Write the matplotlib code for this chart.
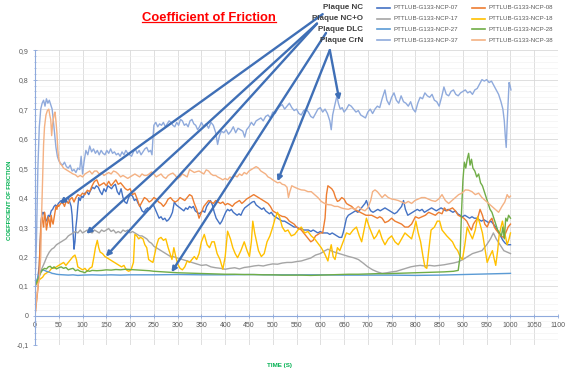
import matplotlib
matplotlib.use('Agg')
import matplotlib.pyplot as plt
from matplotlib.lines import Line2D
from matplotlib.ticker import MultipleLocator, FuncFormatter

plt.rcParams['font.family'] = ['Liberation Sans', 'DejaVu Sans']

# (time s, coefficient of friction)
s07 = [(0, 0.10), (3, 0.11), (6, 0.13), (9, 0.17), (11, 0.25), (13, 0.32), (15, 0.35), (17, 0.345), (19, 0.35),
       (21, 0.33), (23, 0.32), (25, 0.325), (28, 0.34), (31, 0.335), (34, 0.355), (37, 0.36), (40, 0.37),
       (43, 0.375), (46, 0.37), (49, 0.38), (52, 0.385), (55, 0.39), (58, 0.38), (61, 0.39), (64, 0.385),
       (67, 0.395), (70, 0.40), (73, 0.385), (76, 0.37), (78, 0.34), (80, 0.28), (82, 0.225), (84, 0.25),
       (86, 0.30), (88, 0.33), (90, 0.37), (92, 0.40), (95, 0.39), (98, 0.405), (101, 0.40), (105, 0.415),
       (109, 0.42), (113, 0.41), (117, 0.425), (121, 0.435), (125, 0.43), (129, 0.44), (133, 0.435), (137, 0.42),
       (141, 0.41), (145, 0.43), (149, 0.42), (153, 0.44), (157, 0.435), (161, 0.43), (165, 0.44), (169, 0.445),
       (173, 0.42), (177, 0.41), (181, 0.43), (185, 0.40), (189, 0.385), (193, 0.38), (197, 0.40), (201, 0.41),
       (205, 0.405), (209, 0.39), (213, 0.395), (217, 0.38), (221, 0.37), (225, 0.355), (229, 0.35), (233, 0.36),
       (237, 0.365), (241, 0.36), (245, 0.37), (249, 0.375), (253, 0.36), (257, 0.345), (261, 0.33), (265, 0.335),
       (269, 0.325), (273, 0.33), (277, 0.32), (281, 0.325), (285, 0.335), (289, 0.35), (293, 0.385), (297, 0.375),
       (301, 0.37), (305, 0.365), (309, 0.36), (313, 0.355), (317, 0.365), (321, 0.36), (325, 0.37), (329, 0.365),
       (333, 0.37), (337, 0.355), (341, 0.35), (345, 0.345), (349, 0.35), (353, 0.355), (357, 0.35), (361, 0.37),
       (365, 0.38), (369, 0.39), (373, 0.375), (377, 0.35), (381, 0.33), (385, 0.32), (389, 0.31), (393, 0.32),
       (397, 0.335), (401, 0.35), (405, 0.36), (409, 0.355), (413, 0.36), (417, 0.35), (421, 0.345), (425, 0.34),
       (429, 0.345), (433, 0.34), (437, 0.355), (441, 0.365), (445, 0.37), (449, 0.375), (453, 0.38), (457, 0.385),
       (461, 0.387), (465, 0.375), (469, 0.37), (473, 0.365), (477, 0.36), (481, 0.365), (485, 0.355), (489, 0.35),
       (493, 0.345), (497, 0.35), (501, 0.34), (505, 0.335), (510, 0.33), (515, 0.325), (520, 0.32), (525, 0.32),
       (530, 0.315), (535, 0.31), (540, 0.305), (545, 0.30), (550, 0.30), (555, 0.295), (560, 0.295), (565, 0.29),
       (570, 0.29), (575, 0.29), (580, 0.285), (585, 0.29), (590, 0.285), (595, 0.28), (600, 0.285), (605, 0.28),
       (610, 0.28), (615, 0.28), (620, 0.275), (625, 0.28), (630, 0.275), (635, 0.27), (640, 0.265), (645, 0.265),
       (648, 0.28), (651, 0.30), (655, 0.33), (659, 0.34), (664, 0.345), (669, 0.35), (674, 0.355), (679, 0.35),
       (684, 0.36), (689, 0.37), (694, 0.38), (697, 0.39), (701, 0.37), (706, 0.355), (711, 0.35), (716, 0.355),
       (721, 0.36), (726, 0.355), (731, 0.36), (736, 0.365), (741, 0.36), (746, 0.355), (751, 0.35), (756, 0.345),
       (761, 0.35), (766, 0.36), (771, 0.37), (775, 0.39), (779, 0.36), (784, 0.34), (789, 0.345), (794, 0.35),
       (799, 0.355), (804, 0.36), (809, 0.355), (814, 0.36), (819, 0.35), (824, 0.355), (829, 0.36), (834, 0.365),
       (839, 0.36), (844, 0.355), (849, 0.36), (854, 0.365), (859, 0.36), (864, 0.355), (869, 0.36), (874, 0.355),
       (879, 0.35), (884, 0.355), (889, 0.345), (894, 0.34), (899, 0.335), (904, 0.34), (909, 0.335), (914, 0.33),
       (919, 0.335), (924, 0.33), (929, 0.33), (934, 0.325), (939, 0.32), (944, 0.325), (949, 0.32), (954, 0.315),
       (959, 0.32), (964, 0.31), (969, 0.30), (974, 0.285), (979, 0.27), (984, 0.255), (989, 0.245), (994, 0.24),
       (1000, 0.24)]

s08 = [(0, 0.0), (2, 0.03), (4, 0.06), (6, 0.09), (8, 0.13), (10, 0.22), (12, 0.30), (14, 0.335), (16, 0.32),
       (18, 0.30), (20, 0.35), (22, 0.33), (24, 0.29), (26, 0.31), (28, 0.335), (30, 0.32), (32, 0.30), (34, 0.34),
       (36, 0.32), (38, 0.31), (40, 0.33), (42, 0.35), (44, 0.37), (46, 0.36), (48, 0.375), (50, 0.37), (54, 0.38),
       (58, 0.385), (62, 0.37), (66, 0.39), (70, 0.38), (74, 0.395), (78, 0.40), (82, 0.385), (86, 0.40), (90, 0.41),
       (95, 0.405), (100, 0.415), (105, 0.41), (110, 0.425), (115, 0.42), (120, 0.44), (125, 0.455), (130, 0.46),
       (135, 0.44), (140, 0.445), (145, 0.45), (150, 0.44), (155, 0.455), (160, 0.44), (165, 0.45), (170, 0.46),
       (175, 0.445), (180, 0.45), (185, 0.44), (190, 0.43), (195, 0.425), (200, 0.43), (205, 0.41), (210, 0.415),
       (215, 0.395), (220, 0.37), (225, 0.385), (230, 0.40), (235, 0.395), (240, 0.385), (245, 0.39), (250, 0.40),
       (255, 0.395), (260, 0.385), (265, 0.38), (270, 0.37), (275, 0.38), (280, 0.395), (285, 0.40), (290, 0.39),
       (295, 0.385), (300, 0.39), (305, 0.40), (310, 0.395), (315, 0.39), (320, 0.40), (325, 0.41), (330, 0.405),
       (335, 0.38), (340, 0.36), (345, 0.33), (350, 0.35), (355, 0.37), (360, 0.38), (365, 0.39), (370, 0.385),
       (375, 0.38), (380, 0.39), (385, 0.385), (390, 0.38), (395, 0.385), (400, 0.375), (405, 0.38), (410, 0.376),
       (415, 0.37), (420, 0.38), (425, 0.385), (430, 0.39), (435, 0.38), (440, 0.387), (445, 0.395), (450, 0.40),
       (455, 0.405), (460, 0.41), (465, 0.405), (470, 0.40), (475, 0.395), (480, 0.39), (485, 0.385), (490, 0.38),
       (495, 0.37), (500, 0.355), (505, 0.35), (510, 0.345), (515, 0.34), (520, 0.336), (525, 0.335), (530, 0.33),
       (535, 0.32), (540, 0.315), (545, 0.31), (550, 0.30), (555, 0.295), (560, 0.29), (565, 0.28), (570, 0.27),
       (575, 0.26), (580, 0.25), (585, 0.255), (590, 0.27), (595, 0.275), (600, 0.28), (605, 0.28), (610, 0.33),
       (613, 0.41), (616, 0.44), (620, 0.435), (624, 0.43), (628, 0.42), (632, 0.40), (636, 0.387), (640, 0.39),
       (645, 0.40), (650, 0.395), (655, 0.38), (660, 0.375), (666, 0.37), (672, 0.36), (678, 0.355), (684, 0.35),
       (690, 0.345), (696, 0.34), (702, 0.34), (708, 0.34), (714, 0.335), (720, 0.33), (725, 0.335), (730, 0.33),
       (736, 0.315), (743, 0.32), (750, 0.33), (757, 0.32), (764, 0.315), (771, 0.31), (778, 0.30), (785, 0.30),
       (792, 0.31), (800, 0.335), (807, 0.33), (814, 0.335), (821, 0.34), (828, 0.35), (835, 0.345), (842, 0.34),
       (849, 0.35), (856, 0.345), (861, 0.365), (866, 0.355), (872, 0.36), (878, 0.365), (884, 0.355), (890, 0.34),
       (896, 0.335), (902, 0.33), (908, 0.32), (914, 0.30), (918, 0.29), (922, 0.31), (926, 0.32), (931, 0.33),
       (936, 0.36), (941, 0.34), (946, 0.31), (951, 0.30), (956, 0.32), (961, 0.33), (966, 0.30), (970, 0.29),
       (975, 0.28), (980, 0.27), (985, 0.265), (990, 0.28), (995, 0.30), (1000, 0.31)]

s17 = [(0, 0.10), (4, 0.11), (8, 0.13), (12, 0.15), (16, 0.165), (20, 0.18), (25, 0.20), (30, 0.215), (35, 0.225),
       (40, 0.23), (45, 0.24), (50, 0.245), (55, 0.25), (60, 0.255), (65, 0.26), (70, 0.27), (75, 0.275), (80, 0.28),
       (85, 0.285), (90, 0.28), (95, 0.29), (100, 0.28), (105, 0.285), (110, 0.29), (115, 0.285), (120, 0.28),
       (125, 0.29), (130, 0.285), (135, 0.28), (140, 0.29), (145, 0.285), (150, 0.29), (155, 0.295), (160, 0.285),
       (165, 0.29), (170, 0.28), (175, 0.285), (180, 0.28), (185, 0.29), (190, 0.285), (195, 0.29), (200, 0.28),
       (205, 0.285), (210, 0.28), (215, 0.275), (220, 0.27), (225, 0.27), (230, 0.265), (235, 0.26), (240, 0.25),
       (245, 0.245), (250, 0.235), (255, 0.23), (260, 0.225), (265, 0.22), (270, 0.215), (275, 0.21), (280, 0.205),
       (285, 0.20), (290, 0.20), (300, 0.195), (310, 0.19), (320, 0.185), (330, 0.18), (340, 0.175), (350, 0.17),
       (360, 0.172), (370, 0.165), (380, 0.162), (390, 0.16), (400, 0.157), (410, 0.16), (420, 0.162), (430, 0.158),
       (440, 0.163), (450, 0.165), (460, 0.168), (470, 0.17), (480, 0.168), (490, 0.172), (500, 0.175), (510, 0.174),
       (520, 0.178), (530, 0.18), (540, 0.18), (550, 0.183), (560, 0.185), (570, 0.19), (580, 0.195), (590, 0.205),
       (600, 0.21), (610, 0.22), (616, 0.225), (622, 0.22), (630, 0.215), (640, 0.21), (650, 0.205), (660, 0.20),
       (670, 0.196), (680, 0.19), (690, 0.178), (700, 0.165), (710, 0.155), (720, 0.148), (730, 0.143), (740, 0.145),
       (750, 0.148), (760, 0.15), (770, 0.155), (780, 0.16), (790, 0.165), (800, 0.168), (810, 0.17), (820, 0.168),
       (830, 0.17), (840, 0.168), (850, 0.17), (860, 0.172), (870, 0.175), (880, 0.178), (890, 0.182), (900, 0.19),
       (910, 0.20), (920, 0.21), (930, 0.215), (940, 0.22), (950, 0.24), (958, 0.26), (964, 0.28), (970, 0.26),
       (978, 0.24), (986, 0.22), (993, 0.215), (1000, 0.21)]

s18 = [(0, 0.10), (4, 0.11), (8, 0.12), (12, 0.125), (16, 0.13), (20, 0.14), (25, 0.145), (30, 0.15), (35, 0.16),
       (40, 0.16), (45, 0.165), (50, 0.17), (55, 0.175), (60, 0.18), (65, 0.17), (70, 0.18), (75, 0.19), (80, 0.20),
       (84, 0.205), (87, 0.19), (90, 0.165), (95, 0.16), (100, 0.155), (105, 0.16), (110, 0.15), (115, 0.16),
       (120, 0.165), (124, 0.20), (127, 0.23), (131, 0.255), (134, 0.23), (137, 0.215), (142, 0.21), (147, 0.20),
       (152, 0.195), (157, 0.19), (162, 0.185), (167, 0.18), (172, 0.175), (177, 0.17), (182, 0.165), (187, 0.17),
       (192, 0.155), (197, 0.15), (202, 0.155), (207, 0.18), (210, 0.275), (214, 0.27), (218, 0.26), (222, 0.265),
       (227, 0.26), (231, 0.24), (235, 0.23), (239, 0.19), (243, 0.185), (248, 0.18), (252, 0.21), (256, 0.24),
       (260, 0.26), (265, 0.265), (270, 0.255), (275, 0.26), (280, 0.23), (284, 0.21), (288, 0.19), (292, 0.23),
       (296, 0.20), (300, 0.175), (305, 0.16), (310, 0.155), (315, 0.165), (320, 0.185), (325, 0.18), (330, 0.19),
       (335, 0.20), (340, 0.19), (345, 0.21), (350, 0.25), (356, 0.275), (362, 0.24), (367, 0.23), (372, 0.25),
       (377, 0.25), (383, 0.21), (389, 0.19), (395, 0.157), (400, 0.20), (405, 0.286), (411, 0.26), (416, 0.23),
       (421, 0.21), (426, 0.196), (433, 0.22), (440, 0.25), (446, 0.22), (451, 0.20), (455, 0.25), (458, 0.32),
       (462, 0.28), (466, 0.25), (470, 0.22), (476, 0.20), (482, 0.21), (488, 0.25), (494, 0.27), (500, 0.30),
       (505, 0.33), (510, 0.35), (515, 0.33), (520, 0.30), (526, 0.285), (532, 0.29), (539, 0.27), (546, 0.275),
       (553, 0.29), (560, 0.30), (567, 0.28), (574, 0.285), (581, 0.27), (588, 0.26), (595, 0.245), (602, 0.23),
       (609, 0.21), (616, 0.185), (620, 0.22), (623, 0.24), (627, 0.20), (631, 0.19), (636, 0.23), (641, 0.22),
       (648, 0.25), (655, 0.28), (662, 0.275), (669, 0.29), (676, 0.30), (682, 0.27), (687, 0.25), (692, 0.29),
       (697, 0.33), (703, 0.30), (708, 0.28), (713, 0.26), (718, 0.27), (724, 0.29), (730, 0.26), (736, 0.24),
       (743, 0.26), (750, 0.27), (757, 0.25), (764, 0.24), (771, 0.26), (778, 0.28), (785, 0.27), (792, 0.26),
       (797, 0.29), (801, 0.32), (806, 0.28), (811, 0.25), (816, 0.20), (820, 0.165), (824, 0.16), (828, 0.22),
       (833, 0.29), (840, 0.30), (846, 0.32), (851, 0.32), (856, 0.29), (861, 0.28), (866, 0.27), (872, 0.26),
       (878, 0.25), (884, 0.23), (889, 0.22), (894, 0.20), (899, 0.19), (904, 0.24), (909, 0.30), (914, 0.28),
       (920, 0.26), (926, 0.29), (931, 0.335), (936, 0.31), (941, 0.28), (946, 0.23), (951, 0.18), (956, 0.20),
       (962, 0.22), (966, 0.19), (969, 0.17), (973, 0.22), (976, 0.27), (980, 0.30), (983, 0.32), (988, 0.28),
       (993, 0.24), (997, 0.26), (1000, 0.28)]

s27 = [(0, 0.10), (4, 0.12), (8, 0.135), (12, 0.15), (16, 0.155), (20, 0.153), (24, 0.15), (28, 0.148),
       (32, 0.146), (36, 0.143), (40, 0.142), (45, 0.14), (50, 0.139), (60, 0.138), (70, 0.137), (80, 0.138),
       (90, 0.136), (100, 0.137), (120, 0.138), (140, 0.137), (160, 0.138), (180, 0.137), (200, 0.138),
       (250, 0.138), (300, 0.139), (350, 0.138), (400, 0.138), (450, 0.139), (500, 0.138), (550, 0.138),
       (600, 0.138), (650, 0.137), (700, 0.137), (750, 0.137), (800, 0.136), (850, 0.137), (900, 0.139),
       (950, 0.141), (1000, 0.143)]

s28 = [(0, 0.10), (4, 0.115), (8, 0.13), (12, 0.145), (16, 0.155), (20, 0.16), (24, 0.158), (28, 0.165),
       (32, 0.167), (36, 0.16), (40, 0.165), (45, 0.158), (50, 0.162), (55, 0.165), (60, 0.16), (65, 0.163),
       (70, 0.155), (75, 0.158), (80, 0.16), (85, 0.152), (90, 0.155), (95, 0.15), (100, 0.148), (105, 0.145),
       (110, 0.152), (115, 0.15), (120, 0.153), (130, 0.152), (140, 0.153), (150, 0.155), (160, 0.154),
       (170, 0.156), (180, 0.155), (190, 0.157), (200, 0.156), (210, 0.155), (220, 0.154), (230, 0.153),
       (240, 0.152), (250, 0.15), (260, 0.149), (270, 0.148), (280, 0.147), (290, 0.146), (300, 0.145),
       (320, 0.144), (340, 0.143), (360, 0.142), (380, 0.141), (400, 0.14), (420, 0.14), (440, 0.139),
       (460, 0.139), (480, 0.138), (500, 0.138), (520, 0.137), (540, 0.137), (560, 0.137), (580, 0.136),
       (600, 0.137), (620, 0.138), (640, 0.139), (660, 0.14), (680, 0.14), (700, 0.141), (720, 0.142),
       (740, 0.142), (760, 0.143), (780, 0.144), (800, 0.145), (820, 0.146), (840, 0.147), (860, 0.148),
       (880, 0.15), (890, 0.153), (894, 0.20), (897, 0.35), (900, 0.46), (903, 0.52), (906, 0.50), (909, 0.53),
       (912, 0.55), (915, 0.51), (918, 0.53), (921, 0.50), (925, 0.49), (929, 0.47), (933, 0.48), (937, 0.45),
       (941, 0.44), (945, 0.42), (949, 0.40), (953, 0.38), (957, 0.36), (961, 0.35), (965, 0.33), (969, 0.31),
       (973, 0.29), (977, 0.28), (981, 0.27), (984, 0.30), (987, 0.26), (990, 0.33), (993, 0.32), (996, 0.34),
       (1000, 0.33)]

s37 = [(0, 0.12), (3, 0.25), (6, 0.50), (9, 0.64), (12, 0.70), (15, 0.72), (18, 0.73), (21, 0.71), (24, 0.735),
       (27, 0.72), (30, 0.73), (33, 0.715), (36, 0.70), (38, 0.67), (41, 0.62), (44, 0.57), (47, 0.54), (50, 0.525),
       (54, 0.515), (58, 0.51), (62, 0.52), (66, 0.505), (70, 0.50), (74, 0.51), (78, 0.49), (82, 0.495),
       (86, 0.485), (90, 0.50), (94, 0.495), (97, 0.54), (100, 0.48), (103, 0.52), (107, 0.56), (111, 0.545),
       (115, 0.575), (119, 0.555), (123, 0.565), (127, 0.55), (131, 0.56), (135, 0.545), (139, 0.56), (143, 0.55),
       (147, 0.545), (151, 0.56), (155, 0.55), (159, 0.565), (163, 0.55), (167, 0.555), (171, 0.545), (175, 0.55),
       (179, 0.54), (183, 0.555), (187, 0.545), (191, 0.56), (195, 0.55), (199, 0.545), (203, 0.54), (207, 0.555),
       (211, 0.565), (215, 0.55), (219, 0.56), (223, 0.545), (227, 0.555), (231, 0.565), (235, 0.57), (239, 0.555),
       (243, 0.56), (246, 0.545), (248, 0.60), (250, 0.645), (254, 0.655), (258, 0.64), (262, 0.65), (266, 0.645),
       (270, 0.655), (274, 0.64), (278, 0.65), (282, 0.66), (286, 0.655), (290, 0.645), (294, 0.64), (298, 0.655),
       (302, 0.645), (306, 0.665), (310, 0.66), (314, 0.645), (318, 0.65), (322, 0.64), (326, 0.66), (330, 0.665),
       (334, 0.65), (338, 0.645), (342, 0.63), (346, 0.64), (350, 0.655), (355, 0.64), (360, 0.65), (365, 0.635),
       (370, 0.655), (375, 0.645), (380, 0.62), (384, 0.58), (388, 0.61), (392, 0.625), (397, 0.62), (402, 0.63),
       (407, 0.615), (412, 0.625), (417, 0.64), (422, 0.62), (427, 0.635), (432, 0.63), (437, 0.625), (441, 0.605),
       (445, 0.63), (450, 0.64), (455, 0.655), (460, 0.645), (465, 0.66), (470, 0.665), (475, 0.67), (480, 0.66),
       (485, 0.675), (490, 0.68), (495, 0.67), (500, 0.69), (505, 0.685), (510, 0.70), (515, 0.71), (520, 0.715),
       (525, 0.70), (530, 0.71), (535, 0.72), (540, 0.705), (545, 0.695), (550, 0.70), (555, 0.685), (560, 0.68),
       (565, 0.695), (570, 0.70), (575, 0.69), (580, 0.675), (585, 0.67), (590, 0.685), (595, 0.70), (600, 0.705),
       (605, 0.69), (610, 0.70), (615, 0.685), (620, 0.66), (623, 0.63), (626, 0.68), (630, 0.71), (635, 0.745),
       (638, 0.72), (642, 0.70), (646, 0.705), (650, 0.69), (655, 0.70), (660, 0.715), (665, 0.71), (670, 0.70),
       (675, 0.69), (680, 0.695), (685, 0.68), (690, 0.675), (695, 0.67), (700, 0.69), (705, 0.70), (710, 0.685),
       (715, 0.70), (720, 0.71), (725, 0.705), (730, 0.735), (736, 0.765), (740, 0.73), (745, 0.715), (750, 0.74),
       (755, 0.755), (760, 0.73), (765, 0.72), (770, 0.745), (775, 0.725), (780, 0.72), (785, 0.71), (790, 0.725),
       (795, 0.70), (800, 0.69), (805, 0.72), (810, 0.74), (815, 0.735), (820, 0.755), (825, 0.745), (830, 0.74),
       (835, 0.75), (840, 0.73), (845, 0.725), (850, 0.71), (855, 0.74), (860, 0.775), (865, 0.75), (870, 0.745),
       (875, 0.76), (880, 0.765), (885, 0.75), (890, 0.745), (895, 0.755), (900, 0.76), (905, 0.765), (910, 0.755),
       (915, 0.76), (920, 0.75), (925, 0.765), (930, 0.77), (935, 0.785), (940, 0.80), (945, 0.795), (950, 0.80),
       (955, 0.79), (960, 0.795), (965, 0.78), (970, 0.765), (975, 0.75), (980, 0.725), (984, 0.70), (987, 0.66),
       (989, 0.61), (991, 0.57), (993, 0.65), (995, 0.72), (997, 0.79), (999, 0.78), (1001, 0.765)]

s38 = [(0, 0.0), (3, 0.05), (6, 0.10), (9, 0.12), (12, 0.20), (14, 0.35), (16, 0.46), (18, 0.58), (20, 0.64),
       (23, 0.68), (26, 0.695), (29, 0.70), (31, 0.68), (33, 0.665), (35, 0.61), (37, 0.65), (40, 0.68), (42, 0.69),
       (44, 0.66), (46, 0.62), (48, 0.56), (50, 0.53), (53, 0.515), (56, 0.51), (60, 0.50), (65, 0.495), (70, 0.49),
       (75, 0.485), (80, 0.48), (85, 0.477), (90, 0.47), (95, 0.475), (100, 0.47), (105, 0.48), (110, 0.485),
       (115, 0.49), (120, 0.48), (125, 0.49), (130, 0.49), (135, 0.48), (140, 0.485), (145, 0.475), (150, 0.48),
       (155, 0.485), (160, 0.48), (165, 0.49), (170, 0.487), (175, 0.48), (180, 0.47), (185, 0.475), (190, 0.47),
       (195, 0.465), (200, 0.47), (205, 0.475), (210, 0.48), (215, 0.475), (220, 0.47), (225, 0.48), (230, 0.475),
       (235, 0.475), (240, 0.48), (245, 0.487), (250, 0.48), (255, 0.47), (260, 0.475), (265, 0.48), (270, 0.47),
       (275, 0.465), (280, 0.475), (285, 0.48), (290, 0.483), (295, 0.475), (300, 0.464), (305, 0.47), (310, 0.48),
       (315, 0.475), (320, 0.47), (325, 0.495), (330, 0.49), (335, 0.485), (340, 0.488), (345, 0.49), (350, 0.485),
       (355, 0.48), (360, 0.494), (365, 0.49), (370, 0.48), (375, 0.475), (380, 0.475), (384, 0.47), (390, 0.465),
       (395, 0.46), (400, 0.465), (405, 0.46), (410, 0.47), (415, 0.465), (420, 0.475), (425, 0.47), (430, 0.48),
       (435, 0.475), (440, 0.485), (445, 0.48), (450, 0.49), (455, 0.495), (460, 0.50), (465, 0.505), (470, 0.50),
       (475, 0.49), (480, 0.485), (485, 0.48), (490, 0.47), (495, 0.466), (500, 0.46), (505, 0.455), (510, 0.45),
       (515, 0.452), (520, 0.445), (525, 0.443), (530, 0.435), (533, 0.40), (536, 0.42), (540, 0.44), (546, 0.435),
       (553, 0.43), (560, 0.426), (567, 0.425), (574, 0.42), (581, 0.42), (588, 0.41), (595, 0.40), (602, 0.387),
       (609, 0.38), (616, 0.376), (623, 0.375), (630, 0.37), (637, 0.37), (644, 0.365), (651, 0.362), (659, 0.36),
       (666, 0.365), (673, 0.36), (680, 0.37), (687, 0.36), (694, 0.355), (700, 0.365), (706, 0.39), (710, 0.42),
       (715, 0.426), (720, 0.42), (725, 0.41), (730, 0.40), (736, 0.41), (743, 0.40), (750, 0.395), (757, 0.393),
       (764, 0.39), (771, 0.385), (778, 0.38), (785, 0.387), (792, 0.38), (799, 0.39), (806, 0.395), (813, 0.40),
       (820, 0.40), (827, 0.395), (834, 0.39), (842, 0.387), (849, 0.395), (856, 0.41), (863, 0.39), (870, 0.38),
       (877, 0.39), (884, 0.40), (891, 0.41), (898, 0.415), (905, 0.426), (912, 0.425), (919, 0.42), (926, 0.41),
       (933, 0.415), (940, 0.40), (947, 0.39), (954, 0.38), (961, 0.37), (968, 0.36), (975, 0.35), (982, 0.37),
       (988, 0.385), (993, 0.41), (997, 0.40), (1000, 0.405)]

names = ['PTTLUB-G133-NCP-07', 'PTTLUB-G133-NCP-08', 'PTTLUB-G133-NCP-17', 'PTTLUB-G133-NCP-18',
         'PTTLUB-G133-NCP-27', 'PTTLUB-G133-NCP-28', 'PTTLUB-G133-NCP-37', 'PTTLUB-G133-NCP-38']
data = [s07, s08, s17, s18, s27, s28, s37, s38]
colors = ['#4472C4', '#ED7D31', '#A5A5A5', '#FFC000', '#5B9BD5', '#70AD47', '#8FAADC', '#F4B183']

plaques = ['Plaque NC', 'Plaque NC+O', 'Plaque DLC', 'Plaque CrN']
# arrow (tail, head) in data units, tails sit under the labels above the plot
arrows = [((605, 1.022), (52, 0.38)),
          ((593, 0.99), (108, 0.277)), ((593, 0.99), (149, 0.20)),
          ((612, 0.958), (287, 0.147)),
          ((620, 0.90), (510, 0.455)), ((620, 0.90), (640, 0.73))]

fig = plt.figure(figsize=(5.76, 3.74), dpi=100)
ax = fig.add_axes([0.0608, 0.0775, 0.908, 0.7885])

for d, c in zip(data, colors):
    t = [p[0] for p in d]
    v = [p[1] for p in d]
    ax.plot(t, v, color=c, lw=1.0, solid_joinstyle='round')

ax.set_xlim(0, 1100)
ax.set_ylim(-0.1, 0.9)
ax.xaxis.set_major_locator(MultipleLocator(50))
ax.yaxis.set_major_locator(MultipleLocator(0.1))
ax.yaxis.set_minor_locator(MultipleLocator(0.02))
ax.yaxis.set_major_formatter(FuncFormatter(lambda v, p: '0' if abs(v) < 1e-9 else f'{v:.1f}'.replace('.', ',')))

ax.grid(which='major', color='#D9D9D9', lw=0.6)
ax.grid(which='minor', axis='y', color='#EFEFEF', lw=0.4)
ax.set_axisbelow(True)

for s in ['top', 'right']:
    ax.spines[s].set_visible(False)
ax.spines['bottom'].set_position(('data', 0))
ax.spines['bottom'].set_color('#8FAADC')
ax.spines['left'].set_color('#8FAADC')
ax.spines['bottom'].set_linewidth(0.8)
ax.spines['left'].set_linewidth(0.8)
ax.tick_params(axis='both', which='major', labelsize=5, labelcolor='#595959', color='#8FAADC',
               direction='inout', length=3, width=0.6, pad=3)
ax.tick_params(axis='y', which='minor', color='#8FAADC', direction='inout', length=1.5, width=0.5)

for (tail, head) in arrows:
    ax.annotate('', xy=head, xytext=tail, annotation_clip=False,
                arrowprops=dict(arrowstyle='-|>', color='#3F6FB6', lw=1.7, mutation_scale=7,
                                shrinkA=0, shrinkB=0), zorder=10)

rows_y = [0.979, 0.950, 0.922, 0.893]
for lab, y in zip(plaques, rows_y):
    fig.text(0.630, y, lab, ha='right', va='center', fontsize=5.8, fontweight='bold', color='#404040')

for i, (n, c) in enumerate(zip(names, colors)):
    col = i % 2
    row = i // 2
    x0 = 0.6545 if col == 0 else 0.8195
    y = rows_y[row]
    fig.add_artist(Line2D([x0, x0 + 0.023], [y, y], transform=fig.transFigure, color=c, lw=1.2))
    fig.text(x0 + 0.028, y, n, ha='left', va='center', fontsize=4.4, color='#595959')

title = fig.text(0.363, 0.952, 'Coefficient of Friction', ha='center', va='center',
                 fontsize=9.4, fontweight='bold', color='#FF0000')
fig.text(0.017, 0.465, 'COEFFICIENT OF FRICTION', rotation=90, ha='center', va='center',
         fontsize=4.3, fontweight='bold', color='#00B050')
fig.text(0.486, 0.024, 'TIME (S)', ha='center', va='center', fontsize=4.5, fontweight='bold', color='#00B050')

fig.canvas.draw()
bb = title.get_window_extent().transformed(fig.transFigure.inverted())
fig.add_artist(Line2D([bb.x0, bb.x1], [bb.y0 + 0.004, bb.y0 + 0.004], transform=fig.transFigure,
                      color='#FF0000', lw=0.9))

fig.savefig('out.png', dpi=100)
